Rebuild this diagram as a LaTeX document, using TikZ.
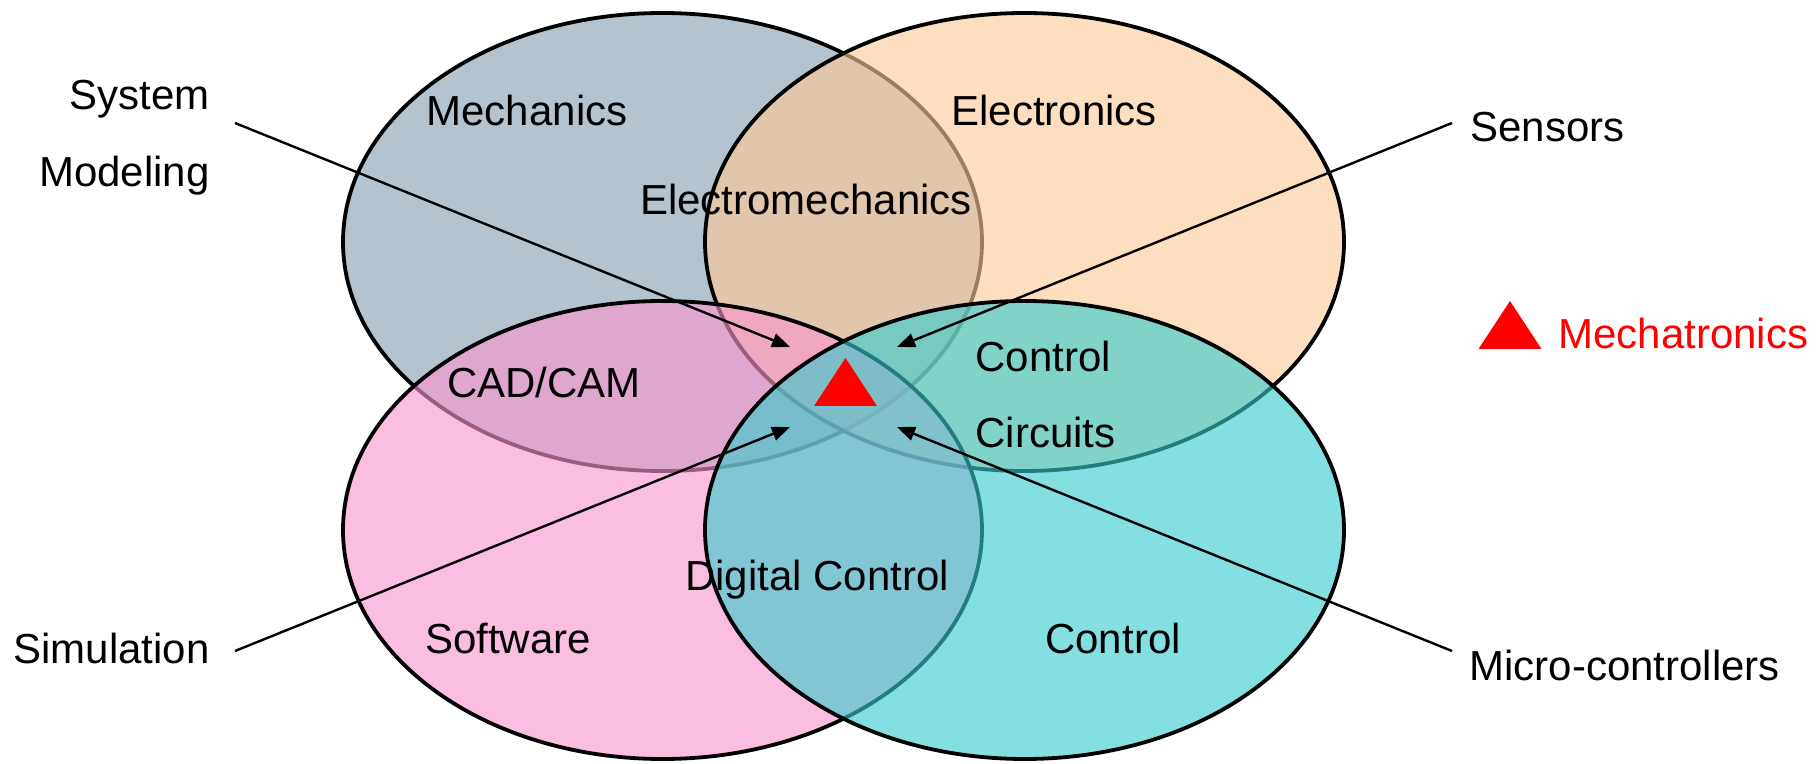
\documentclass[tikz,border=0pt]{standalone}
\usepackage{fontspec}
\setmainfont{Liberation Sans}
\usetikzlibrary{arrows.meta}

\definecolor{mechgray}{RGB}{134,158,174}
\definecolor{elecorange}{RGB}{252,203,153}
\definecolor{softpink}{RGB}{250,150,205}
\definecolor{ctrlcyan}{RGB}{56,203,205}

% red marker, #1 is the middle of its base
\newcommand\mechamark[1]{\fill[red] (#1) ++(-31.5,0) -- ++(63,0) -- ++(-31.5,-48) -- cycle;}

\begin{document}
\begin{tikzpicture}[x=0.5pt, y=-0.5pt,
  every node/.style = {inner sep=0pt, font=\fontsize{21}{25}\selectfont},
  field/.style = {draw=black, line width=1.9pt, fill opacity=0.62},
  pointer/.style = {line width=1.2pt, -{Triangle[length=9pt, width=7pt]}}]
  \useasboundingbox (0,0) rectangle (1820,764);

  \coordinate (mech) at (662.5,242);
  \coordinate (elec) at (1024.5,242);
  \coordinate (soft) at (662.5,530);
  \coordinate (ctrl) at (1024.5,530);

  \draw[field, fill=mechgray]   (mech) ellipse [x radius=159.75pt, y radius=114.5pt];
  \draw[field, fill=elecorange] (elec) ellipse [x radius=159.75pt, y radius=114.5pt];
  \draw[field, fill=softpink]   (soft) ellipse [x radius=159.75pt, y radius=114.5pt];
  \draw[field, fill=ctrlcyan]   (ctrl) ellipse [x radius=159.75pt, y radius=114.5pt];

  \node[anchor=base] (mechanics) at (527,126) {Mechanics};
  \node[anchor=base] (electronics) at (1054,126) {Electronics};
  \node[anchor=base] (electromech) at (806,215) {Electromechanics};
  \node[anchor=base] (cadcam) at (544,398) {CAD/CAM};
  \node[anchor=base west] (ctrlcirc1) at (975,372) {Control};
  \node[anchor=base west] (ctrlcirc2) at (975,448) {Circuits};
  \node[anchor=base] (digital) at (817,590) {Digital Control};
  \node[anchor=base] (software) at (508,653) {Software};
  \node[anchor=base] (control) at (1113,653) {Control};

  \mechamark{845.5,406}
  \mechamark{1510,349}
  \node[anchor=base west, text=red] (legend) at (1558,349) {Mechatronics};

  \node[anchor=base east] (sysmod1) at (210,110) {System};
  \node[anchor=base east] (sysmod2) at (210,187) {Modeling};
  \node[anchor=base east] (simulation) at (210,663) {Simulation};
  \node[anchor=base west] (sensors) at (1470,142) {Sensors};
  \node[anchor=base west] (micro) at (1469,680) {Micro-controllers};

  \coordinate (sysmodfrom) at (235,123);
  \coordinate (simfrom) at (235,651);
  \coordinate (sensfrom) at (1452,123);
  \coordinate (microfrom) at (1452,651);
  \coordinate (sysmodto) at (790,347);
  \coordinate (simto) at (790,427);
  \coordinate (sensto) at (897,347);
  \coordinate (microto) at (897,427);

  \draw[pointer] (sysmodfrom) -- (sysmodto);
  \draw[pointer] (simfrom) -- (simto);
  \draw[pointer] (sensfrom) -- (sensto);
  \draw[pointer] (microfrom) -- (microto);
\end{tikzpicture}
\end{document}
